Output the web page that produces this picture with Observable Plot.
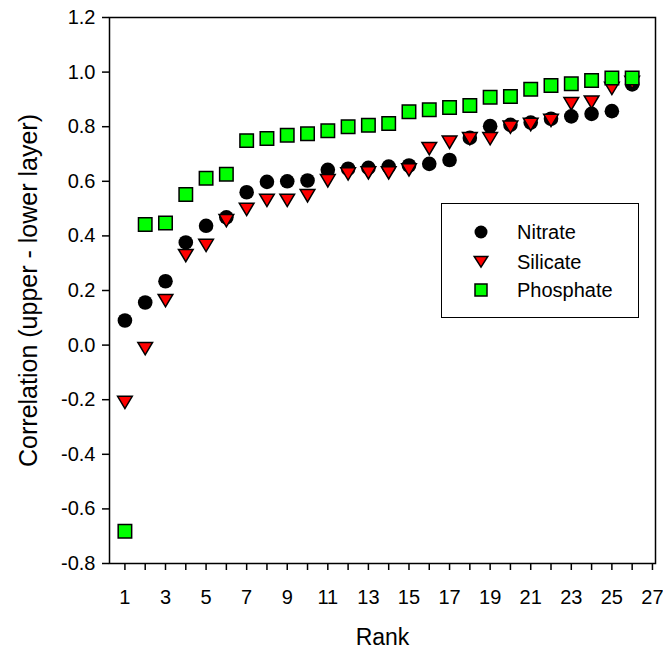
<!DOCTYPE html>
<html>
<head>
<meta charset="utf-8">
<script src="https://cdn.jsdelivr.net/npm/d3@7"></script>
<script src="https://cdn.jsdelivr.net/npm/@observablehq/plot@0.6"></script>
<style>
  html, body { margin: 0; padding: 0; background: #fff; }
  #wrap { position: relative; width: 663px; height: 654px; font-family: "Liberation Sans", Arial, sans-serif; }
  #legend { position: absolute; left: 441px; top: 203px; width: 198px; height: 115px; box-sizing: border-box;
            border: 1.5px solid #000; background: #fff; }
  .row { position: absolute; left: 0; height: 20px; }
  .row svg { position: absolute; left: 29px; top: 0; }
  .row span { position: absolute; left: 75px; font-size: 20px; color: #000; white-space: nowrap; line-height: 20px; top: 0; }
</style>
</head>
<body>
<div id="wrap"></div>
<script>
const ranks = d3.range(1, 27);
const nitrate   = [0.090, 0.156, 0.234, 0.376, 0.437, 0.468, 0.560, 0.598, 0.600, 0.603, 0.642, 0.646, 0.649, 0.654, 0.658, 0.664, 0.678, 0.759, 0.802, 0.807, 0.815, 0.829, 0.838, 0.847, 0.857, 0.955];
const silicate  = [-0.210, -0.013, 0.163, 0.328, 0.365, 0.456, 0.497, 0.530, 0.530, 0.547, 0.602, 0.627, 0.631, 0.631, 0.642, 0.720, 0.743, 0.756, 0.756, 0.798, 0.808, 0.823, 0.884, 0.890, 0.940, 0.962];
const phosphate = [-0.682, 0.442, 0.447, 0.552, 0.611, 0.626, 0.749, 0.757, 0.769, 0.774, 0.785, 0.800, 0.805, 0.812, 0.855, 0.862, 0.870, 0.878, 0.908, 0.911, 0.937, 0.951, 0.957, 0.969, 0.978, 0.978];
const seriesNames = ["Nitrate", "Silicate", "Phosphate"];
const seriesColors = ["#000000", "#ff0000", "#00ff00"];
const yTicks = [-0.8, -0.6, -0.4, -0.2, 0.0, 0.2, 0.4, 0.6, 0.8, 1.0, 1.2];
const xTicks = d3.range(1, 28);
const xLabel = "Rank";
const yLabel = "Correlation (upper - lower layer)";

const triangleDown = {
  draw(context, size) {
    const r = Math.sqrt(size / Math.PI);
    const w = r * 1.05, h = r * 0.88;
    context.moveTo(-w, -h);
    context.lineTo(w, -h);
    context.lineTo(0, h);
    context.closePath();
  }
};

const rows = ranks.map((r, i) => ({rank: r, n: nitrate[i], s: silicate[i], p: phosphate[i]}));

const chart = Plot.plot({
  width: 663,
  height: 654,
  marginLeft: 109,
  marginRight: 8,
  marginTop: 17,
  marginBottom: 91,
  style: {fontFamily: "'Liberation Sans', Arial, sans-serif", fontSize: "20px", color: "#000", background: "#fff"},
  x: {domain: [0.24, 27.15]},
  y: {domain: [-0.8, 1.2]},
  marks: [
    Plot.frame({stroke: "#000", strokeWidth: 1.5}),
    Plot.axisX({ticks: xTicks, tickFormat: d => (d % 2 ? String(d) : ""), tickSize: 7, tickPadding: 19,
                label: null, fontSize: 20, strokeWidth: 1.5}),
    Plot.axisY({ticks: yTicks, tickFormat: d => d.toFixed(1), tickSize: 7, tickPadding: 7,
                label: null, fontSize: 20, strokeWidth: 1.5}),
    Plot.dot(rows, {x: "rank", y: "n", r: 7.3, fill: seriesColors[0], stroke: "none"}),
    Plot.dot(rows, {x: "rank", y: "s", r: 7, symbol: triangleDown, fill: seriesColors[1], stroke: "#000", strokeWidth: 1.5}),
    Plot.dot(rows, {x: "rank", y: "p", r: 7.6, symbol: "square", fill: seriesColors[2], stroke: "#000", strokeWidth: 1.5}),
    Plot.text([xLabel], {frameAnchor: "bottom", textAnchor: "middle", dy: 81, fontSize: 23, fill: "#000"}),
    Plot.text([yLabel], {frameAnchor: "left", textAnchor: "middle", dx: -81, rotate: -90, fontSize: 25, fill: "#000"})
  ]
});

const wrap = document.getElementById("wrap");
wrap.appendChild(chart);

// Legend (HTML overlay, drawn from the series names/colours)
const legend = document.createElement("div");
legend.id = "legend";
const rowTops = [18, 48, 76];
const legendSymbols = [
  '<circle cx="10" cy="10" r="6.5" fill="' + seriesColors[0] + '"/>',
  '<path d="M3.2,4.4 L16.8,4.4 L10,15.2 Z" fill="' + seriesColors[1] + '" stroke="#000" stroke-width="1.5"/>',
  '<rect x="4" y="4" width="12" height="12" fill="' + seriesColors[2] + '" stroke="#000" stroke-width="1.5"/>'
];
seriesNames.forEach((name, i) => {
  const row = document.createElement("div");
  row.className = "row";
  row.style.top = rowTops[i] + "px";
  row.innerHTML = '<svg width="20" height="20" viewBox="0 0 20 20">' + legendSymbols[i] + '</svg><span>' + name + '</span>';
  legend.appendChild(row);
});
wrap.appendChild(legend);
</script>
</body>
</html>
